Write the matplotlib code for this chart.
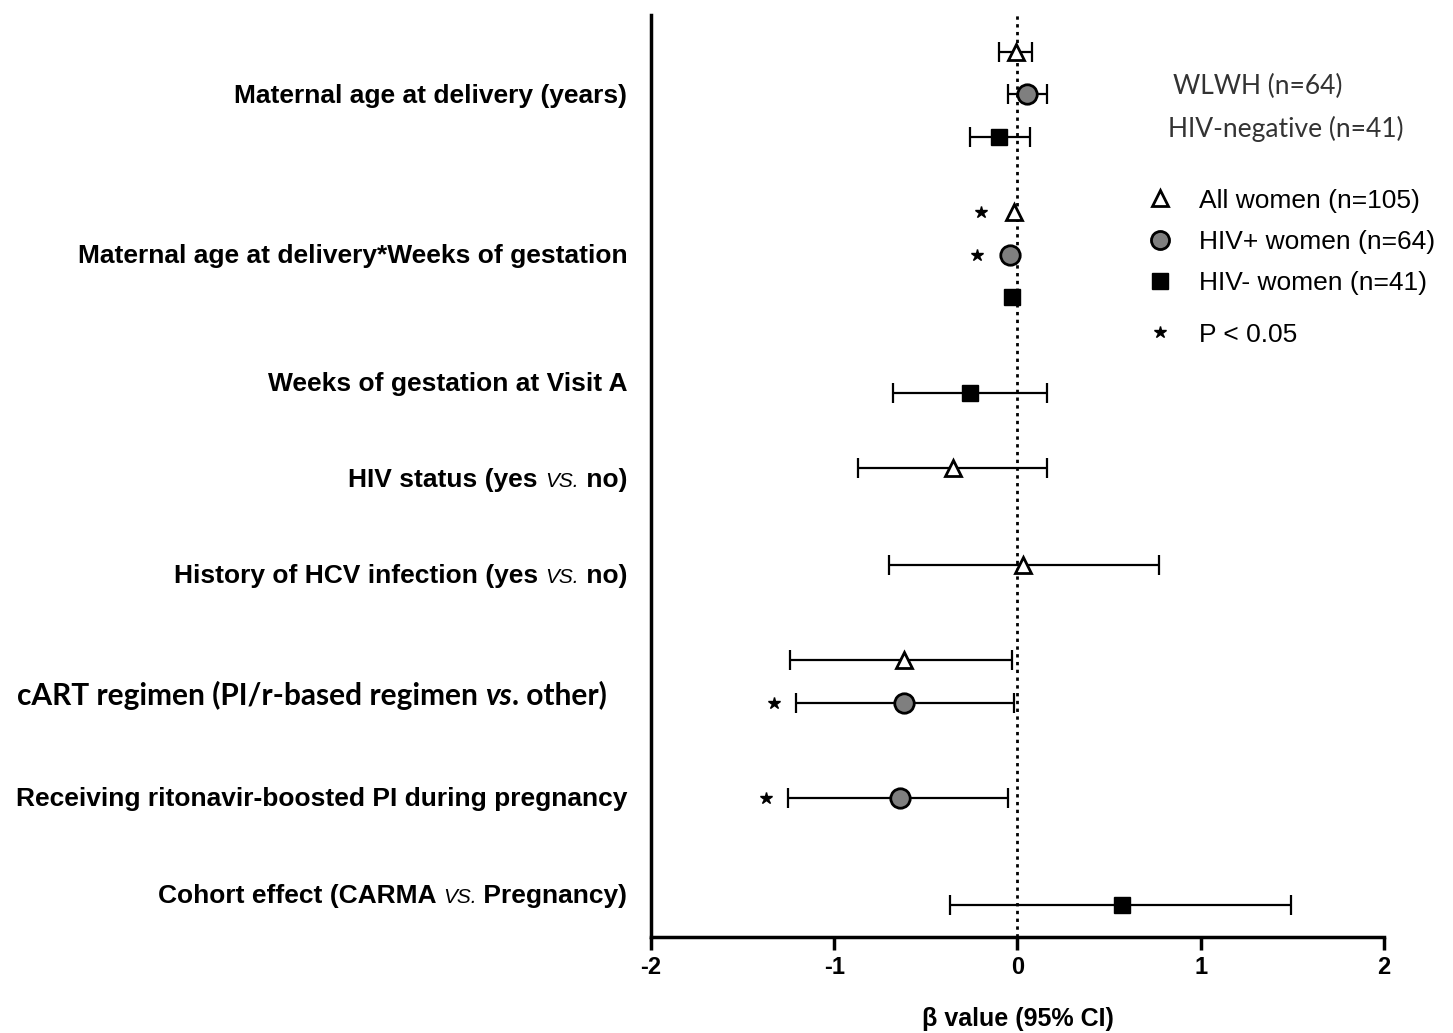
import matplotlib
matplotlib.use("Agg")
import matplotlib.pyplot as plt
from matplotlib.lines import Line2D
from matplotlib.offsetbox import TextArea, HPacker, AnnotationBbox

# --- data (beta and 95% CI) ---
labels = [
    "Maternal age at delivery (years)",
    "Maternal age at delivery*Weeks of gestation",
    "Weeks of gestation at Visit A",
    "HIV status (yes VS. no)",
    "History of HCV infection (yes VS. no)",
    "cART regimen (PI/r-based regimen vs. other)",
    "Receiving ritonavir-boosted PI during pregnancy",
    "Cohort effect (CARMA VS. Pregnancy)",
]

all_est = [-0.01, -0.02, -0.35, 0.03, -0.62]
all_lo = [-0.10, -0.02, -0.87, -0.70, -1.24]
all_hi = [0.08, -0.02, 0.16, 0.77, -0.03]
all_sig = [False, True, False, False, False]

pos_est = [0.05, -0.04, -0.62, -0.64]
pos_lo = [-0.05, -0.04, -1.21, -1.25]
pos_hi = [0.16, -0.04, -0.02, -0.05]
pos_sig = [False, True, True, True]

neg_est = [-0.10, -0.03, -0.26, 0.57]
neg_lo = [-0.26, -0.03, -0.68, -0.37]
neg_hi = [0.07, -0.03, 0.16, 1.49]
neg_sig = [False, False, False, False]

# --- layout (vertical slots, axis runs top=0 to bottom=9.22) ---
label_y = [0.81, 2.41, 3.69, 4.65, 5.61, 6.80, 7.84, 8.81]
all_y = [0.37, 1.97, 4.53, 5.50, 6.45]
pos_y = [0.79, 2.40, 6.88, 7.83]
neg_y = [1.22, 2.82, 3.78, 8.90]

fig = plt.figure(figsize=(14.53, 10.33), dpi=100)
ax = fig.add_axes([0.448, 0.093, 0.5045, 0.892])
ax.set_xlim(-2, 2)
ax.set_ylim(9.22, 0)

ax.axvline(0, color="black", linestyle=(0, (1.2, 1.6)), linewidth=2, zorder=1)

styles = [
    (all_est, all_lo, all_hi, all_y, all_sig, dict(marker="^", mfc="white", mec="black", ms=11, mew=2)),
    (pos_est, pos_lo, pos_hi, pos_y, pos_sig, dict(marker="o", mfc="#7f7f7f", mec="black", ms=14, mew=2)),
    (neg_est, neg_lo, neg_hi, neg_y, neg_sig, dict(marker="s", mfc="black", mec="black", ms=11, mew=1)),
]

for est, lo, hi, ys, sig, st in styles:
    for e, l, h, y, s in zip(est, lo, hi, ys, sig):
        if h > l:
            ax.errorbar([e], [y], xerr=[[e - l], [h - e]], fmt="none", ecolor="black",
                        elinewidth=1.6, capsize=7, capthick=1.6, zorder=2)
        ax.plot([e], [y], linestyle="none", zorder=3, **st)
        if s:
            ax.plot([min(l, e - 0.06) - 0.12], [y], marker="*", color="black",
                    ms=9, linestyle="none", zorder=3)

for side in ["top", "right"]:
    ax.spines[side].set_visible(False)
for side in ["left", "bottom"]:
    ax.spines[side].set_linewidth(2.5)

ax.set_yticks([])
ax.set_xticks([-2, -1, 0, 1, 2])
ax.set_xticklabels(["-2", "-1", "0", "1", "2"], fontsize=17, fontweight="bold",
                   family="Liberation Sans")
ax.tick_params(axis="x", length=9, width=2.5, pad=5)
ax.set_xlabel("β value (95% CI)", fontsize=18, fontweight="bold",
              family="Liberation Sans", labelpad=20)

# --- category labels (mixed fonts) ---
bold = dict(family="Liberation Sans", weight="bold", size=19, color="black")
vs_small = dict(family="Liberation Sans", style="italic", size=15, color="black")
cal_bold = dict(family="Lato", weight="bold", size=21.5, color="black")
cal_ital = dict(family="Lato", weight="bold", style="italic", size=21.5, color="black")


def label_parts(txt):
    if txt.startswith("cART"):
        return [("cART regimen (PI/r-based regimen ", cal_bold), ("vs", cal_ital), (". other)", cal_bold)]
    if " VS. " in txt:
        a, b = txt.split(" VS. ")
        return [(a + " ", bold), ("VS.", vs_small), (" " + b, bold)]
    return [(txt, bold)]


for txt, y in zip(labels, label_y):
    parts = [TextArea(t, textprops=p) for t, p in label_parts(txt)]
    box = HPacker(children=parts, align="baseline", pad=0, sep=0)
    shift = -32 if txt.startswith("cART") else -17
    ab = AnnotationBbox(box, (0, y), xycoords=("axes fraction", "data"),
                        xybox=(shift, 0), boxcoords="offset points",
                        box_alignment=(1, 0.5), frameon=False, pad=0)
    ax.add_artist(ab)

# --- legend ---
fig.text(0.807, 0.916, "WLWH (n=64)", family="Lato", size=19, color="#333333", va="center")
fig.text(0.804, 0.875, "HIV-negative (n=41)", family="Lato", size=19, color="#333333", va="center")

handles = [
    Line2D([], [], linestyle="none", marker="^", mfc="white", mec="black", ms=11, mew=2),
    Line2D([], [], linestyle="none", marker="o", mfc="#7f7f7f", mec="black", ms=13, mew=2),
    Line2D([], [], linestyle="none", marker="s", mfc="black", mec="black", ms=11),
]
names = ["All women (n=105)", "HIV+ women (n=64)", "HIV- women (n=41)"]
leg_prop = dict(family="Liberation Sans", size=19)
leg = fig.legend(handles, names, loc="upper left", bbox_to_anchor=(0.7727, 0.8403),
                 frameon=False, handlelength=1.0, handletextpad=1.0, labelspacing=0.65,
                 prop=leg_prop)
star_handle = [Line2D([], [], linestyle="none", marker="*", color="black", ms=9)]
fig.legend(star_handle, ["P < 0.05"], loc="upper left", bbox_to_anchor=(0.7727, 0.7106),
           frameon=False, handlelength=1.0, handletextpad=1.0, prop=leg_prop)

fig.savefig("out.png", dpi=100)
